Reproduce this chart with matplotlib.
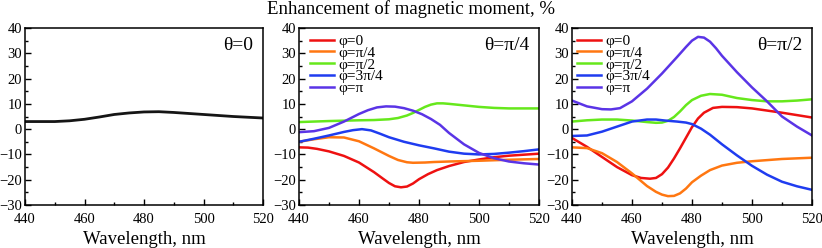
import matplotlib
matplotlib.use("Agg")
import matplotlib.pyplot as plt
from matplotlib.ticker import MultipleLocator

plt.rcParams["font.family"] = ["Liberation Serif", "DejaVu Serif"]

LABELS = ["φ=0", "φ=π/4", "φ=π/2", "φ=3π/4", "φ=π"]
COLORS = ["#ee1111", "#ff7711", "#66e81c", "#1f3cf0", "#5a34e6"]

# theta = 0
wl_t0 = [440, 450, 455, 460, 465, 470, 475, 480, 485, 490, 495, 500, 505, 510, 515, 520]
y_t0 = [3.0, 3.0, 3.3, 3.9, 4.8, 5.8, 6.4, 6.8, 6.9, 6.6, 6.2, 5.8, 5.4, 5.0, 4.7, 4.4]

# theta = pi/4
wl_t45 = [
    [440, 443, 446, 450, 455, 460, 465, 468, 470, 472, 474, 476, 478, 480, 483, 486, 490, 495, 500, 505, 510, 515, 520],
    [440, 445, 450, 455, 460, 465, 470, 473, 476, 478, 482, 485, 490, 500, 510, 520],
    [440, 450, 460, 465, 470, 473, 476, 478, 480, 482, 484, 486, 488, 490, 495, 500, 505, 510, 520],
    [440, 445, 450, 455, 458, 461, 464, 467, 470, 475, 480, 485, 490, 495, 500, 505, 510, 515, 520],
    [440, 445, 450, 455, 460, 463, 466, 469, 472, 475, 478, 481, 484, 487, 490, 495, 500, 505, 510, 515, 520],
]
y_t45 = [
    [-7.2, -7.3, -7.8, -8.8, -10.6, -13.2, -17.0, -19.6, -21.3, -22.6, -23.0, -22.7, -21.5, -19.8, -17.8, -16.2, -14.6, -13.0, -12.0, -11.1, -10.5, -10.1, -9.7],
    [-5.0, -4.0, -3.2, -3.3, -4.8, -7.6, -10.6, -12.2, -13.1, -13.3, -13.2, -13.0, -12.8, -12.5, -12.1, -11.8],
    [2.8, 3.2, 3.5, 3.6, 3.9, 4.4, 5.4, 6.4, 7.6, 8.8, 9.7, 10.2, 10.2, 10.0, 9.4, 8.8, 8.4, 8.2, 8.2],
    [-5.0, -3.8, -2.5, -1.1, -0.4, 0.0, -0.5, -1.8, -3.2, -5.0, -6.4, -7.6, -8.9, -9.7, -10.0, -9.8, -9.3, -8.7, -8.0],
    [-1.2, -0.8, 0.5, 3.0, 6.0, 7.5, 8.6, 9.0, 8.9, 8.3, 7.3, 5.9, 4.0, 1.7, -1.5, -6.0, -9.4, -11.5, -12.8, -13.5, -14.0],
]

# theta = pi/2
wl_t90 = [
    [440, 445, 450, 455, 460, 463, 466, 468, 470, 472, 474, 476, 478, 480, 482, 484, 487, 490, 495, 500, 510, 520],
    [440, 445, 450, 455, 460, 465, 468, 470, 472, 474, 476, 478, 480, 483, 486, 490, 495, 500, 510, 520],
    [440, 445, 450, 455, 460, 465, 468, 470, 472, 474, 476, 478, 480, 483, 486, 490, 495, 500, 505, 510, 515, 520],
    [440, 445, 450, 455, 460, 465, 468, 471, 475, 478, 480, 483, 486, 490, 495, 500, 505, 510, 515, 520],
    [440, 445, 450, 453, 456, 460, 465, 470, 475, 478, 480, 482, 484, 486, 488, 490, 495, 500, 505, 510, 515, 520],
]
y_t90 = [
    [-3.5, -7.0, -11.0, -15.0, -18.2, -19.3, -19.6, -19.3, -17.8, -15.2, -11.6, -7.6, -3.4, 0.8, 4.2, 6.5, 8.4, 8.8, 8.7, 8.2, 6.5, 4.6],
    [-7.2, -7.5, -9.5, -13.0, -17.5, -22.5, -24.8, -25.9, -26.5, -26.4, -25.4, -23.5, -21.0, -18.4, -16.2, -14.4, -13.3, -12.7, -11.8, -11.3],
    [3.0, 3.5, 3.8, 3.8, 3.4, 2.8, 2.5, 2.6, 3.3, 4.8, 7.0, 9.5, 11.5, 13.2, 13.9, 13.6, 12.3, 11.5, 11.0, 11.0, 11.3, 11.8],
    [-2.7, -2.5, -1.0, 1.0, 3.0, 3.8, 3.8, 3.4, 3.0, 2.6, 2.0, 0.2, -2.2, -6.0, -10.4, -14.5, -18.0, -20.8, -22.6, -24.0],
    [11.3, 9.0, 7.9, 7.8, 8.3, 11.0, 16.0, 22.0, 28.5, 32.5, 35.0, 36.5, 36.2, 34.6, 32.0, 29.0, 22.5, 16.5, 11.0, 5.0, 1.0, -2.5],
]

fig = plt.figure(figsize=(8.22, 2.48), dpi=100)
positions = [
    [25 / 822, 43 / 248, 238 / 822, 177 / 248],
    [299 / 822, 43 / 248, 240 / 822, 177 / 248],
    [572 / 822, 43 / 248, 240 / 822, 177 / 248],
]
titles = ["θ=0", "θ=π/4", "θ=π/2"]
axes = [fig.add_axes(p) for p in positions]

axes[0].plot(wl_t0, y_t0, color="#151515", lw=2.0)
for ax, wls, ys, lx in [(axes[1], wl_t45, y_t45, 0.046), (axes[2], wl_t90, y_t90, 0.021)]:
    for x, y, c, lab in zip(wls, ys, COLORS, LABELS):
        ax.plot(x, y, color=c, lw=1.8, label=lab)
    ax.legend(loc="upper left", frameon=False, fontsize=11, handlelength=1.6,
              labelspacing=-0.12, borderaxespad=0.0, handletextpad=0.25,
              borderpad=0.0, bbox_to_anchor=(lx, 0.965))

for ax, t in zip(axes, titles):
    ax.set_xlim(440, 520)
    ax.set_ylim(-30, 40)
    ax.xaxis.set_major_locator(MultipleLocator(20))
    ax.xaxis.set_minor_locator(MultipleLocator(10))
    ax.yaxis.set_major_locator(MultipleLocator(10))
    ax.yaxis.set_minor_locator(MultipleLocator(5))
    ax.tick_params(which="both", direction="in", top=False, right=False,
                   labelsize=10.5)
    ax.tick_params(axis="x", pad=6)
    ax.tick_params(axis="y", pad=2)
    ax.tick_params(which="major", length=4, width=1)
    ax.tick_params(which="minor", length=2, width=1)
    for s in ax.spines.values():
        s.set_linewidth(1.1)
    ax.set_xlabel("Wavelength, nm", fontsize=13.5, labelpad=3)
    ax.text(0.96, 0.95, t, transform=ax.transAxes, ha="right", va="top", fontsize=14)

fig.text(0.5, 0.965, "Enhancement of magnetic moment, %", ha="center", va="center", fontsize=13.5)

fig.savefig("out.png", dpi=100)
